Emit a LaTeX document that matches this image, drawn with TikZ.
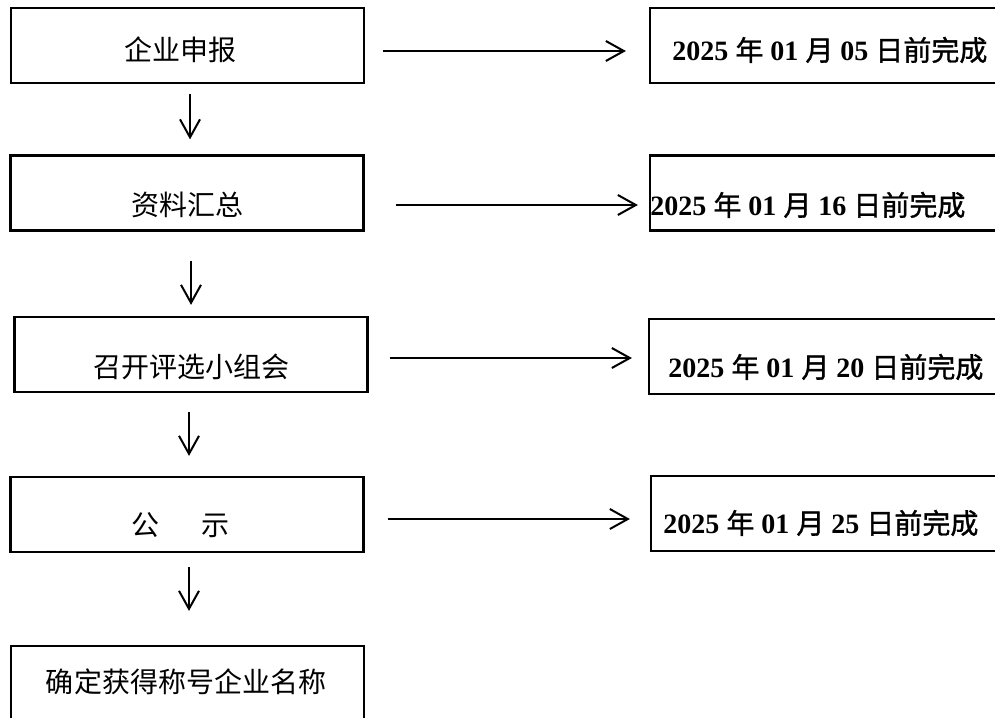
\documentclass[tikz,border=0pt]{standalone}
\usepackage{fontspec}
\setmainfont{Liberation Serif}
\newfontfamily\cjk{Noto Sans CJK SC}
\newfontfamily\cjkheavy{Noto Sans CJK SC}[FakeBold=1.2]
\usetikzlibrary{arrows.meta}

\newcommand{\donedate}[1]{\bfseries 2025 {\cjkheavy\mdseries 年} 01 {\cjkheavy\mdseries 月} #1 {\cjkheavy\mdseries 日前完成}}

\begin{document}
\begin{tikzpicture}[x=0.5pt,y=-0.5pt]

%
% Styles
%
\tikzstyle{box}  = [draw,line width=1.1pt,minimum width=176.5pt,minimum height=37.5pt,inner sep=0]
\tikzstyle{date} = [draw,line width=1.1pt,minimum width=200pt,minimum height=37.5pt,inner sep=0]
\tikzstyle{lbl}  = [inner sep=0,font=\cjk\fontsize{14pt}{16pt}\selectfont]
\tikzstyle{due}  = [inner sep=0,anchor=west,font=\fontsize{14pt}{16pt}\selectfont]
\tikzstyle{edge} = [-{Straight Barb[length=9pt,width=10pt]},line width=1pt]

\useasboundingbox (0,0) rectangle (995,717);
\clip (0,0) rectangle (995,717);

% left column
\node[box] (b1) at (187.5, 45.5) {};
\node[box] (b2) at (187,  193)   {};
\node[box] (b3) at (191,  354.5) {};
\node[box] (b4) at (187,  514.5) {};
\node[box] (b5) at (187.5,683.5) {};

\node[lbl] (t1) at (180,  50)  {企业申报};
\node[lbl] (t2) at (187,  205) {资料汇总};
\node[lbl] (t3) at (191,  367) {召开评选小组会};
\node[lbl] (t4) at (180,  525) {公\hspace{1.5em}示};
\node[lbl] (t5) at (186,  682) {确定获得称号企业名称};

% right column
\node[date] (r1) at (850, 45.5)  {};
\node[date] (r2) at (850, 193)   {};
\node[date] (r3) at (849, 356.5) {};
\node[date] (r4) at (851, 513.5) {};

\node[due] (d1) at (672, 50)  {\donedate{05}};
\node[due] (d2) at (650, 205) {\donedate{16}};
\node[due] (d3) at (668, 367) {\donedate{20}};
\node[due] (d4) at (663, 523) {\donedate{25}};

% down
\draw[edge,shorten <=5pt,shorten >=7.5pt]
  ([xshift=1.25pt]b1.south) -- ([xshift=1.25pt]b1.south |- b2.north);
\draw[edge,shorten <=14.5pt,shorten >=5.5pt]
  ([xshift=2pt]b2.south) -- ([xshift=2pt]b2.south |- b3.north);
\draw[edge,shorten <=9.5pt,shorten >=10pt]
  ([xshift=-1pt]b3.south) -- ([xshift=-1pt]b3.south |- b4.north);
\draw[edge,shorten <=7pt,shorten >=17pt]
  ([xshift=1pt]b4.south) -- ([xshift=1pt]b4.south |- b5.north);

% across
\draw[edge,shorten <=9pt,shorten >=11.5pt]
  ([yshift=-2.75pt]b1.east) -- ([yshift=-2.75pt]b1.east -| r1.west);
\draw[edge,shorten <=15.5pt,shorten >=5.5pt]
  ([yshift=-6pt]b2.east) -- ([yshift=-6pt]b2.east -| r2.west);
\draw[edge,shorten <=10.5pt,shorten >=8pt]
  ([yshift=-1.75pt]b3.east) -- ([yshift=-1.75pt]b3.east -| r3.west);
\draw[edge,shorten <=11.5pt,shorten >=10pt]
  ([yshift=-2.25pt]b4.east) -- ([yshift=-2.25pt]b4.east -| r4.west);

\end{tikzpicture}
\end{document}
